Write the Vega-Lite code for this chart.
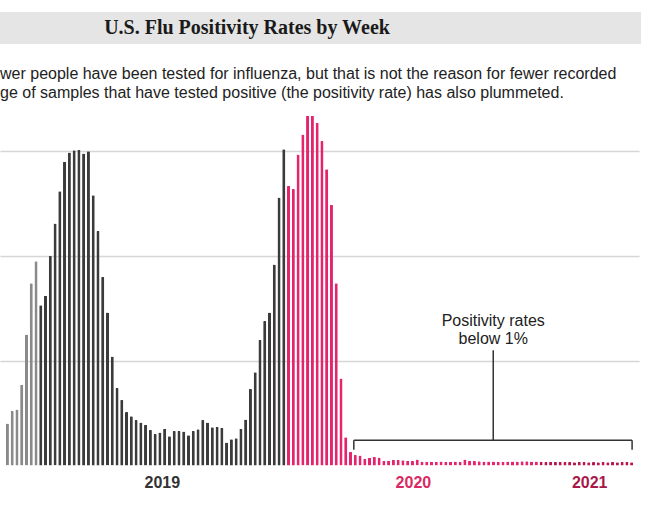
{
  "$schema": "https://vega.github.io/schema/vega-lite/v6.json",
  "background": "white",
  "padding": {"left": 0, "top": 12, "right": 0, "bottom": 0},
  "spacing": 21,
  "config": {"view": {"stroke": null}, "font": "Liberation Sans"},
  "vconcat": [
    {
      "width": 641,
      "height": 32,
      "view": {"fill": "#e5e5e5", "stroke": null},
      "data": {"values": [{"t": "U.S. Flu Positivity Rates by Week"}]},
      "mark": {"type": "text", "font": "Liberation Serif", "fontWeight": "bold", "fontSize": 20, "color": "#1a1a1a", "dx": -73.5, "baseline": "middle", "align": "center"},
      "encoding": {"text": {"field": "t"}}
    },
    {
      "width": 639,
      "height": 366.5,
      "title": {
        "text": ["wer people have been tested for influenza, but that is not the reason for fewer recorded", "ge of samples that have tested positive (the positivity rate) has also plummeted."],
        "anchor": "start",
        "font": "Liberation Sans",
        "fontSize": 16,
        "fontWeight": "normal",
        "color": "#222222",
        "lineHeight": 19.5,
        "offset": -2
      },
      "layer": [
        {
          "data": {"values": [
            {"i":0,"v":4.0,"s":"2018"},{"i":1,"v":5.2,"s":"2018"},{"i":2,"v":5.35,"s":"2018"},{"i":3,"v":7.7,"s":"2018"},{"i":4,"v":12.5,"s":"2018"},{"i":5,"v":17.4,"s":"2018"},{"i":6,"v":19.5,"s":"2018"},
            {"i":7,"v":15.3,"s":"2019"},{"i":8,"v":16.2,"s":"2019"},{"i":9,"v":20.0,"s":"2019"},{"i":10,"v":23.1,"s":"2019"},{"i":11,"v":26.2,"s":"2019"},{"i":12,"v":29.0,"s":"2019"},{"i":13,"v":29.9,"s":"2019"},{"i":14,"v":30.1,"s":"2019"},{"i":15,"v":30.15,"s":"2019"},{"i":16,"v":29.8,"s":"2019"},{"i":17,"v":30.0,"s":"2019"},{"i":18,"v":25.8,"s":"2019"},{"i":19,"v":22.4,"s":"2019"},{"i":20,"v":18.0,"s":"2019"},{"i":21,"v":14.6,"s":"2019"},{"i":22,"v":10.4,"s":"2019"},{"i":23,"v":7.4,"s":"2019"},{"i":24,"v":6.25,"s":"2019"},{"i":25,"v":5.1,"s":"2019"},{"i":26,"v":4.7,"s":"2019"},{"i":27,"v":4.35,"s":"2019"},{"i":28,"v":4.1,"s":"2019"},{"i":29,"v":3.9,"s":"2019"},{"i":30,"v":3.4,"s":"2019"},{"i":31,"v":3.0,"s":"2019"},{"i":32,"v":3.15,"s":"2019"},{"i":33,"v":3.5,"s":"2019"},{"i":34,"v":2.8,"s":"2019"},{"i":35,"v":3.3,"s":"2019"},{"i":36,"v":3.3,"s":"2019"},{"i":37,"v":3.25,"s":"2019"},{"i":38,"v":2.9,"s":"2019"},{"i":39,"v":3.3,"s":"2019"},{"i":40,"v":3.45,"s":"2019"},{"i":41,"v":4.35,"s":"2019"},{"i":42,"v":4.1,"s":"2019"},{"i":43,"v":3.65,"s":"2019"},{"i":44,"v":3.7,"s":"2019"},{"i":45,"v":3.6,"s":"2019"},{"i":46,"v":2.2,"s":"2019"},{"i":47,"v":2.5,"s":"2019"},{"i":48,"v":2.6,"s":"2019"},{"i":49,"v":3.5,"s":"2019"},{"i":50,"v":4.4,"s":"2019"},{"i":51,"v":7.3,"s":"2019"},{"i":52,"v":8.9,"s":"2019"},{"i":53,"v":12.0,"s":"2019"},{"i":54,"v":13.8,"s":"2019"},{"i":55,"v":14.6,"s":"2019"},{"i":56,"v":19.2,"s":"2019"},{"i":57,"v":25.6,"s":"2019"},{"i":58,"v":30.2,"s":"2019"},
            {"i":59,"v":26.7,"s":"2020"},{"i":60,"v":26.4,"s":"2020"},{"i":61,"v":29.7,"s":"2020"},{"i":62,"v":31.6,"s":"2020"},{"i":63,"v":33.4,"s":"2020"},{"i":64,"v":33.4,"s":"2020"},{"i":65,"v":32.7,"s":"2020"},{"i":66,"v":31.0,"s":"2020"},{"i":67,"v":28.3,"s":"2020"},{"i":68,"v":24.9,"s":"2020"},{"i":69,"v":17.4,"s":"2020"},{"i":70,"v":8.3,"s":"2020"},{"i":71,"v":2.7,"s":"2020"},{"i":72,"v":1.3,"s":"2020"},{"i":73,"v":1.0,"s":"2020"},{"i":74,"v":0.95,"s":"2020"},{"i":75,"v":0.65,"s":"2020"},{"i":76,"v":0.73,"s":"2020"},{"i":77,"v":0.8,"s":"2020"},{"i":78,"v":0.76,"s":"2020"},{"i":79,"v":0.45,"s":"2020"},{"i":80,"v":0.45,"s":"2020"},{"i":81,"v":0.54,"s":"2020"},{"i":82,"v":0.54,"s":"2020"},{"i":83,"v":0.5,"s":"2020"},{"i":84,"v":0.45,"s":"2020"},{"i":85,"v":0.42,"s":"2020"},{"i":86,"v":0.57,"s":"2020"},{"i":87,"v":0.38,"s":"2020"},{"i":88,"v":0.36,"s":"2020"},{"i":89,"v":0.36,"s":"2020"},{"i":90,"v":0.37,"s":"2020"},{"i":91,"v":0.38,"s":"2020"},{"i":92,"v":0.36,"s":"2020"},{"i":93,"v":0.37,"s":"2020"},{"i":94,"v":0.38,"s":"2020"},{"i":95,"v":0.37,"s":"2020"},{"i":96,"v":0.57,"s":"2020"},{"i":97,"v":0.44,"s":"2020"},{"i":98,"v":0.42,"s":"2020"},{"i":99,"v":0.4,"s":"2020"},{"i":100,"v":0.39,"s":"2020"},{"i":101,"v":0.39,"s":"2020"},{"i":102,"v":0.38,"s":"2020"},{"i":103,"v":0.37,"s":"2020"},{"i":104,"v":0.37,"s":"2020"},{"i":105,"v":0.38,"s":"2020"},{"i":106,"v":0.39,"s":"2020"},{"i":107,"v":0.39,"s":"2020"},{"i":108,"v":0.4,"s":"2020"},{"i":109,"v":0.4,"s":"2020"},{"i":110,"v":0.39,"s":"2020"},{"i":111,"v":0.38,"s":"2020"},
            {"i":112,"v":0.35,"s":"2021"},{"i":113,"v":0.34,"s":"2021"},{"i":114,"v":0.35,"s":"2021"},{"i":115,"v":0.33,"s":"2021"},{"i":116,"v":0.33,"s":"2021"},{"i":117,"v":0.34,"s":"2021"},{"i":118,"v":0.33,"s":"2021"},{"i":119,"v":0.32,"s":"2021"},{"i":120,"v":0.33,"s":"2021"},{"i":121,"v":0.33,"s":"2021"},{"i":122,"v":0.32,"s":"2021"},{"i":123,"v":0.33,"s":"2021"},{"i":124,"v":0.32,"s":"2021"},{"i":125,"v":0.33,"s":"2021"},{"i":126,"v":0.32,"s":"2021"},{"i":127,"v":0.33,"s":"2021"},{"i":128,"v":0.32,"s":"2021"},{"i":129,"v":0.33,"s":"2021"},{"i":130,"v":0.33,"s":"2021"},{"i":131,"v":0.32,"s":"2021"}
          ]},
          "mark": {"type": "bar", "width": 3.1, "cornerRadiusEnd": 1},
          "encoding": {
            "x": {
              "field": "i", "type": "quantitative",
              "scale": {"domain": [-0.5, 131.5], "nice": false, "zero": false},
              "axis": {
                "values": [32.4, 85.1, 122.1],
                "labelExpr": "datum.value < 60 ? '2019' : datum.value < 100 ? '2020' : '2021'",
                "labelColor": {"condition": [{"test": "datum.value < 60", "value": "#333333"}, {"test": "datum.value < 100", "value": "#d92a63"}], "value": "#a8184b"},
                "labelFont": "Liberation Sans",
                "labelFontWeight": "bold",
                "labelFontSize": 16,
                "labelPadding": 9,
                "ticks": false,
                "domain": false,
                "grid": false,
                "title": null
              }
            },
            "y": {
              "field": "v", "type": "quantitative",
              "scale": {"domain": [0, 35], "nice": false},
              "axis": {"values": [10, 20, 30], "grid": true, "gridColor": "#d6d6d6", "gridWidth": 1.3, "labels": false, "ticks": false, "domain": false, "title": null, "minExtent": 0}
            },
            "color": {
              "field": "s", "type": "nominal",
              "scale": {"domain": ["2018", "2019", "2020", "2021"], "range": ["#8a8a8a", "#3b3b3b", "#e5256b", "#b81651"]},
              "legend": null
            }
          }
        },
        {
          "data": {"values": [
            {"a": 72.7, "a2": 131.1, "b": 2.4, "b2": 2.4},
            {"a": 72.7, "a2": 72.7, "b": 2.4, "b2": 1.5},
            {"a": 131.1, "a2": 131.1, "b": 2.4, "b2": 1.5},
            {"a": 101.96, "a2": 101.96, "b": 2.4, "b2": 11.0}
          ]},
          "mark": {"type": "rule", "color": "#333333", "strokeWidth": 1.5},
          "encoding": {
            "x": {"field": "a", "type": "quantitative"},
            "x2": {"field": "a2"},
            "y": {"field": "b", "type": "quantitative"},
            "y2": {"field": "b2"}
          }
        },
        {
          "data": {"values": [
            {"a": 101.96, "b": 13.8, "t": "Positivity rates"},
            {"a": 101.96, "b": 12.1, "t": "below 1%"}
          ]},
          "mark": {"type": "text", "font": "Liberation Sans", "fontSize": 16, "color": "#222222", "align": "center", "baseline": "middle"},
          "encoding": {
            "x": {"field": "a", "type": "quantitative"},
            "y": {"field": "b", "type": "quantitative"},
            "text": {"field": "t"}
          }
        }
      ]
    }
  ]
}
